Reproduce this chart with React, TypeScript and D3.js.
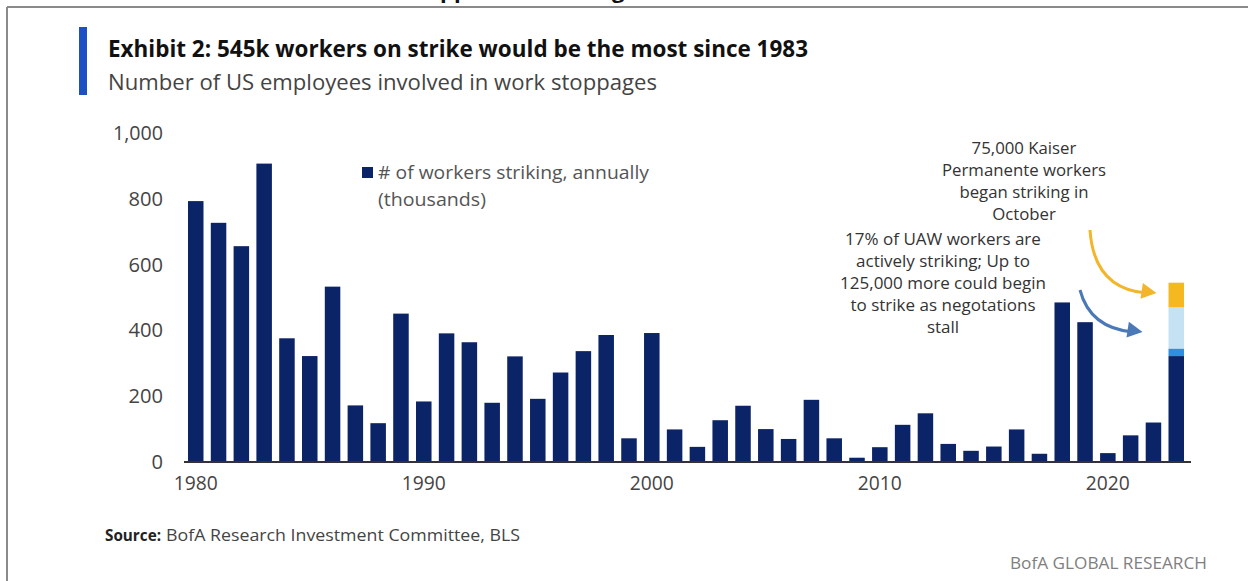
import React from "react";
import * as d3 from "d3";

const years: number[] = d3.range(1980, 2024);
const workers: number[] = [
  793, 727, 656, 907, 376, 322, 533, 172, 118, 451, 184, 391, 364, 180, 321, 192,
  272, 337, 386, 72, 392, 99, 46, 127, 171, 100, 70, 189, 72, 13, 45, 113, 148,
  55, 34, 47, 99, 25, 485, 425, 27, 81, 120, 322,
];
// 2023 add-ons (thousands)
const extraLabels: string[] = ["UAW striking", "UAW could begin", "Kaiser Permanente"];
const extraValues: number[] = [23, 125, 75];
const extraColors: string[] = ["#2d8fe0", "#c4e2f3", "#f6b821"];
const yTicks: number[] = [0, 200, 400, 600, 800, 1000];
const xTickYears: number[] = [1980, 1990, 2000, 2010, 2020];
const kaiserNote: string[] = ["75,000  Kaiser", "Permanente workers", "began striking in", "October"];
const uawNote: string[] = [
  "17% of UAW workers are",
  "actively striking; Up to",
  "125,000  more could begin",
  "to strike as negotations",
  "stall",
];

const NAVY = "#0b2367";
const FONT = "'Open Sans', 'DejaVu Sans', sans-serif";

export default function App() {
  const W = 1248;
  const H = 581;
  const x = d3
    .scaleBand<number>()
    .domain(years)
    .range([184, 1188])
    .paddingInner(0.32)
    .paddingOuter(0.175);
  const y = d3.scaleLinear().domain([0, 1000]).range([462, 133]);
  const fmt = d3.format(",");

  const lastYear = years[years.length - 1];
  let acc = workers[workers.length - 1];
  const stack = extraValues.map((v, i) => {
    const s = { y0: acc, y1: acc + v, color: extraColors[i], label: extraLabels[i] };
    acc += v;
    return s;
  });

  const bx = x(lastYear)!;
  const yellowMid = (y(stack[2].y0) + y(stack[2].y1)) / 2;
  const blueMid = (y(stack[1].y0) + y(stack[1].y1)) / 2;
  const yellowTip: [number, number] = [bx - 12, yellowMid - 2];
  const blueTip: [number, number] = [bx - 26, blueMid + 4];
  const yellowPath = `M1090,230 Q1094,${yellowTip[1] - 4} ${yellowTip[0] - 10},${yellowTip[1]}`;
  const bluePath = `M1080,290 Q1090,${blueTip[1] - 4} ${blueTip[0] - 10},${blueTip[1]}`;

  const head = (tip: [number, number], color: string, ang: number) => {
    const L = 15,
      Wd = 8;
    const ca = Math.cos(ang),
      sa = Math.sin(ang);
    const bx0 = tip[0] - L * ca,
      by0 = tip[1] - L * sa;
    const p1 = [bx0 - Wd * sa, by0 + Wd * ca];
    const p2 = [bx0 + Wd * sa, by0 - Wd * ca];
    return <polygon points={`${tip[0]},${tip[1]} ${p1[0]},${p1[1]} ${p2[0]},${p2[1]}`} fill={color} />;
  };

  return (
    <div style={{ position: "absolute", left: 0, top: 0 }}>
      <svg width={W} height={H} style={{ display: "block", background: "#fff" }}>
        {/* cut-off text of a prior heading (cut off in the reference too) */}
        <text x={440} y={-2} fontFamily={FONT} fontWeight={700} fontSize={22} fill="#111">pp</text>
        <text x={612} y={-2} fontFamily={FONT} fontWeight={700} fontSize={22} fill="#111">g</text>
        {/* frame */}
        <line x1={7} x2={W} y1={7} y2={7} stroke="#8a8a8a" strokeWidth={2} />
        <line x1={7} x2={7} y1={7} y2={H} stroke="#8a8a8a" strokeWidth={2} />

        {/* title block */}
        <rect x={79} y={27} width={8} height={68} fill="#1d50c4" />
        <text x={108} y={57} fontFamily={FONT} fontWeight={700} fontSize={23} fill="#111" textLength={700} lengthAdjust="spacingAndGlyphs">
          Exhibit 2: 545k workers on strike would be the most since 1983
        </text>
        <text x={108} y={90} fontFamily={FONT} fontSize={21} fill="#444" textLength={549} lengthAdjust="spacingAndGlyphs">
          Number of US employees involved in work stoppages
        </text>

        {/* y ticks */}
        {yTicks.map((t) => {
          const s = fmt(t);
          const len = s.replace(/,/g, "").length * 11.5 + (s.includes(",") ? 4 : 0);
          return (
            <text key={t} x={163} y={y(t) + 7} textAnchor="end" fontFamily={FONT} fontSize={20} fill="#444" textLength={len} lengthAdjust="spacingAndGlyphs">
              {s}
            </text>
          );
        })}

        {/* bars */}
        {years.map((yr, i) => (
          <rect key={yr} x={x(yr)} y={y(workers[i])} width={x.bandwidth()} height={y(0) - y(workers[i])} fill={NAVY} />
        ))}
        {stack.map((s) => (
          <rect key={s.label} x={bx} y={y(s.y1)} width={x.bandwidth()} height={y(s.y0) - y(s.y1)} fill={s.color} />
        ))}

        {/* axis */}
        <line x1={184} x2={1191} y1={y(0)} y2={y(0)} stroke="#333" strokeWidth={2} />
        {xTickYears.map((yr) => (
          <text key={yr} x={x(yr)! + x.bandwidth() / 2} y={490} textAnchor="middle" fontFamily={FONT} fontSize={20} fill="#444" textLength={44} lengthAdjust="spacingAndGlyphs">
            {yr}
          </text>
        ))}

        {/* legend */}
        <rect x={362} y={167} width={11} height={11} fill={NAVY} />
        <text x={378} y={179} fontFamily={FONT} fontSize={19} fill="#555" textLength={271} lengthAdjust="spacingAndGlyphs">
          # of workers striking, annually
        </text>
        <text x={378} y={206} fontFamily={FONT} fontSize={19} fill="#555" textLength={108} lengthAdjust="spacingAndGlyphs">
          (thousands)
        </text>

        {/* annotations */}
        {kaiserNote.map((t, i) => (
          <text key={t} x={1024} y={154 + i * 22} textAnchor="middle" fontFamily={FONT} fontSize={16.8} fill="#333">
            {t}
          </text>
        ))}
        {uawNote.map((t, i) => (
          <text key={t} x={943} y={245 + i * 22} textAnchor="middle" fontFamily={FONT} fontSize={17} fill="#333">
            {t}
          </text>
        ))}
        <path d={yellowPath} fill="none" stroke="#f3b62a" strokeWidth={3} />
        {head(yellowTip, "#f3b62a", 0.15)}
        <path d={bluePath} fill="none" stroke="#4b78b6" strokeWidth={3} />
        {head(blueTip, "#4b78b6", 0.15)}

        {/* source */}
        <text x={105} y={541} fontFamily={FONT} fontSize={16} fill="#222">
          <tspan fontWeight={700} textLength={56} lengthAdjust="spacingAndGlyphs">Source:</tspan>
        </text>
        <text x={166} y={541} fontFamily={FONT} fontSize={16} fill="#444" textLength={354} lengthAdjust="spacingAndGlyphs">
          BofA Research Investment Committee, BLS
        </text>
        <text x={1207} y={569} textAnchor="end" fontFamily={FONT} fontSize={16} fill="#808080" textLength={197} lengthAdjust="spacingAndGlyphs">
          BofA GLOBAL RESEARCH
        </text>
      </svg>
    </div>
  );
}
